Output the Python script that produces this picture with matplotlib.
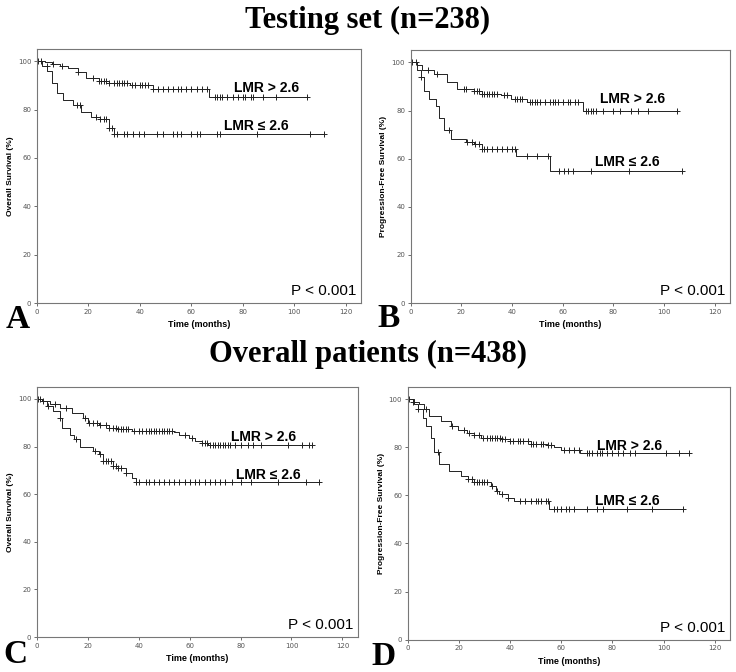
import numpy as np
import matplotlib.pyplot as plt

# --- Testing set: overall survival (panel A) ---
a_hi_t = [0, 3, 6, 9, 12, 16, 19, 24, 28, 36, 45, 67, 105]
a_hi_s = [100, 99.5, 99, 98, 97, 95.5, 93, 92, 91, 90, 88.5, 85, 85]
a_hi_c = [0.5, 1.8, 6.4, 9.6, 16, 22, 24, 25, 26, 27, 28, 30, 31, 32, 33, 34, 35, 37, 38, 40, 41, 42,
          43, 45, 47, 49, 51, 53, 55, 56, 58, 60, 62, 64, 66, 69, 70, 71, 72, 74, 76, 78, 80, 81, 83,
          84, 88, 93, 105]
a_lo_t = [0, 2, 4, 6, 8, 10, 14, 17, 21, 24.5, 28, 30, 111.5]
a_lo_s = [100, 98, 96, 91, 87, 84, 82, 79, 77, 76, 72.5, 70, 70]
a_lo_c = [3.8, 15.5, 16.7, 23, 24.5, 26, 27, 28, 29, 30, 31, 34, 35, 37.5, 39.5, 41.5, 46.6, 49, 53,
          54.5, 56, 60, 62, 63.5, 70, 71, 85.6, 106, 111.5]

# --- Testing set: progression-free survival (panel B) ---
b_hi_t = [0, 2.6, 4.6, 9, 14.5, 18.4, 25, 28, 35.5, 39.5, 46, 67.8, 105]
b_hi_s = [100, 99, 97, 95, 92, 89, 88, 87, 86.5, 85, 83.5, 80, 80]
b_hi_c = [0.5, 2, 7, 10.5, 21, 22, 25, 26, 27, 28, 29, 30, 31, 32, 33, 34, 36.8, 38, 41, 42, 43, 44,
          47, 48, 49, 50, 51, 53, 55, 56, 57, 58, 60, 62, 63, 65, 66, 69, 70, 71, 72, 73, 76, 80,
          82.5, 87, 89.5, 93.5, 105]
b_lo_t = [0, 2.6, 4, 5.3, 7.2, 10, 11, 13, 16, 22, 25, 28, 41.4, 55, 107]
b_lo_s = [100, 97, 94, 88, 85, 82, 77, 72, 68, 67, 66, 64, 61, 55, 55]
b_lo_c = [4, 15, 22.4, 24, 25.4, 27, 28, 29, 30, 32, 34, 36, 38, 40, 41, 46, 50, 54, 58.5, 60.5, 62,
          64, 71, 86, 107]

# --- Overall patients: overall survival (panel C) ---
c_hi_t = [0, 2, 5, 9, 14, 18, 20, 24.5, 28.5, 32, 37.5, 54, 55.7, 59.6, 62, 65, 67.4, 108]
c_hi_s = [100, 99, 98, 96, 94, 92, 90, 89, 88, 87.5, 86.5, 86, 85, 83.5, 82.5, 81.5, 80.5, 80.5]
c_hi_c = [0.5, 1.2, 2.5, 7, 11.5, 19, 20.5, 22, 23.5, 25, 27, 28.5, 30, 31, 32, 33, 34, 35, 36, 38,
          40, 41.5, 43, 44, 45, 46, 47, 48, 49, 50, 51, 52, 53, 58, 61, 65, 66, 67, 68, 69, 70, 71,
          72, 73, 74, 75, 76, 78, 80, 83, 85, 88, 98.5, 104, 107, 108]
c_lo_t = [0, 2, 4, 6.4, 9, 10, 13, 14.8, 16.8, 22, 24.5, 26, 30, 32, 35, 37.5, 39, 111]
c_lo_s = [100, 99, 97, 95, 92, 88, 85, 83, 80, 78, 77, 74, 72, 71, 69, 67, 65, 65]
c_lo_c = [4.4, 9, 15.5, 23, 25, 26, 27, 28, 29, 30, 31, 32, 33, 35, 39, 40, 42.7, 44, 46, 48, 50,
          52, 54, 56, 58, 60, 62, 63.5, 66, 68, 70, 72, 74, 76.5, 80, 84, 94.7, 105.7, 111]

# --- Overall patients: progression-free survival (panel D) ---
d_hi_t = [0, 2, 4.5, 6.5, 8.4, 13, 17, 19.5, 23, 26, 28.6, 36.4, 40, 48, 54.5, 57, 60, 67.5, 109]
d_hi_s = [100, 99, 98, 96, 93, 91, 89, 87, 86, 85, 84, 83.5, 82.5, 81.5, 81, 80, 79, 77.5, 77.5]
d_hi_c = [0.6, 2, 7, 17.4, 22, 24, 26, 28, 29.5, 31, 32, 33, 34, 35, 36, 37, 38, 40, 41, 43, 44, 45,
          47, 48, 49, 50, 52, 53, 55, 56, 61, 63, 65, 67, 70, 71, 72, 74, 75, 76, 78, 80, 82, 84,
          87, 89, 101, 106, 110]
d_lo_t = [0, 2.6, 3.9, 5.8, 7, 9, 10.4, 12.3, 16, 20.8, 23.4, 26, 32.5, 34.4, 35.7, 39, 41.5, 55.2, 107.7]
d_lo_s = [100, 98, 96, 92, 89, 84, 78, 73, 70, 68, 67, 65.5, 64, 62, 60.5, 59, 57.5, 54.5, 54.5]
d_lo_c = [4, 11.7, 23.4, 25, 26, 27, 28, 29, 30, 31, 33, 35, 37, 39, 44, 46, 48, 50, 51, 52, 54, 55,
          57, 58.5, 60, 62, 63, 65, 70, 74, 76.5, 85.7, 95.5, 107.7]

titles = ["Testing set (n=238)", "Overall patients (n=438)"]
ylabels = ["Overall Survival (%)", "Progression-Free Survival (%)"]
hi_label = "LMR > 2.6"
lo_label = "LMR \u2264 2.6"

panels = [
    # letter, axes rect, letter pos, hi curve, lo curve, ylabel, hi label pos, lo label pos
    ("A", [0.050, 0.549, 0.441, 0.378], (0.008, 0.512), (a_hi_t, a_hi_s, a_hi_c), (a_lo_t, a_lo_s, a_lo_c), 0, (89, 89), (85.3, 73.3)),
    ("B", [0.558, 0.549, 0.434, 0.376], (0.513, 0.514), (b_hi_t, b_hi_s, b_hi_c), (b_lo_t, b_lo_s, b_lo_c), 1, (87.5, 84.6), (85.5, 58.7)),
    ("C", [0.050, 0.052, 0.436, 0.372], (0.004, 0.013), (c_hi_t, c_hi_s, c_hi_c), (c_lo_t, c_lo_s, c_lo_c), 0, (89, 84), (90.8, 68)),
    ("D", [0.554, 0.048, 0.438, 0.376], (0.504, 0.011), (d_hi_t, d_hi_s, d_hi_c), (d_lo_t, d_lo_s, d_lo_c), 1, (86.6, 80.7), (85.7, 57.6)),
]

fig = plt.figure(figsize=(7.36, 6.72), dpi=100)
sans = ['Liberation Sans', 'DejaVu Sans']
serif = 'Liberation Serif'


def draw_km(ax, t, s, c):
    t = np.asarray(t, float)
    s = np.asarray(s, float)
    ax.step(t, s, where='post', color='#222222', lw=0.7)
    c = np.asarray(c, float)
    idx = np.clip(np.searchsorted(t, c, side='right') - 1, 0, len(s) - 1)
    ax.plot(c, s[idx], ls='none', marker='+', ms=4.5, mew=0.7, color='#222222')


for letter, rect, lpos, hi, lo, yl, hipos, lopos in panels:
    ax = fig.add_axes(rect)
    draw_km(ax, *hi)
    draw_km(ax, *lo)
    ax.set_xlim(0, 126)
    ax.set_ylim(0, 105)
    ax.set_xticks(range(0, 121, 20))
    ax.set_yticks(range(0, 101, 20))
    ax.tick_params(labelsize=5, colors='#555555', length=2.5, width=0.6, pad=1.5)
    for sp in ax.spines.values():
        sp.set_color('#777777')
        sp.set_linewidth(0.8)
    ax.set_ylabel(ylabels[yl], fontsize=6, fontweight='bold', family=sans, labelpad=3)
    ax.set_xlabel("Time (months)", fontsize=6.5, fontweight='bold', family=sans, labelpad=4)
    ax.text(*hipos, hi_label, fontsize=10, fontweight='bold', family=sans, ha='center', va='center')
    ax.text(*lopos, lo_label, fontsize=10, fontweight='bold', family=sans, ha='center', va='center')
    ax.text(0.985, 0.02, "P < 0.001", transform=ax.transAxes, fontsize=11, family=sans,
            fontweight='medium', ha='right', va='bottom')
    fig.text(lpos[0], lpos[1], letter, fontsize=24, fontweight='bold', family=serif,
             ha='left', va='baseline')

fig.text(0.5, 0.97, titles[0], fontsize=22, fontweight='bold', family=serif, ha='center', va='center')
fig.text(0.5, 0.472, titles[1], fontsize=22, fontweight='bold', family=serif, ha='center', va='center')

fig.savefig("out.png", dpi=100)
